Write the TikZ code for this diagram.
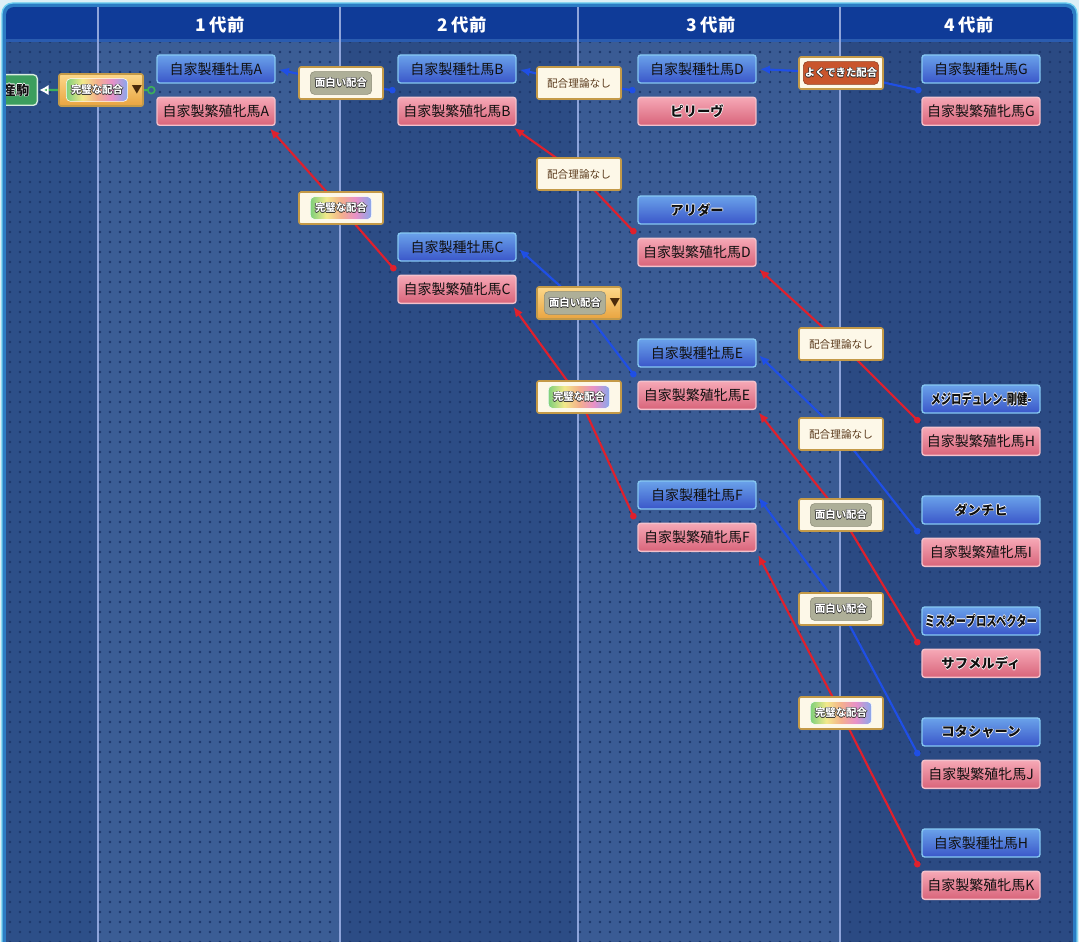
\documentclass[tikz,border=0pt]{standalone}
\usepackage{fontspec}
\setmainfont{Noto Sans CJK JP}
\usepackage{tikz}
\usetikzlibrary{calc,positioning,arrows.meta,shadows,patterns.meta}
\definecolor{pagebg}{HTML}{DCEFF6}
\definecolor{panelrim}{HTML}{2C7CC4}
\definecolor{panelglow}{HTML}{6CD0F0}
\definecolor{headblue}{HTML}{0F3B98}
\definecolor{headedge}{HTML}{2A5CB0}
\definecolor{colA}{HTML}{2D4F88}
\definecolor{colB}{HTML}{3B5D95}
\definecolor{colC}{HTML}{2C4C85}
\definecolor{colD}{HTML}{3A5B94}
\definecolor{colE}{HTML}{2B4A83}
\definecolor{dotc}{HTML}{1E386C}
\definecolor{divline}{HTML}{8EA4DA}
\definecolor{siretop}{HTML}{6AA2EA}
\definecolor{sirebot}{HTML}{3A56C9}
\definecolor{sireedge}{HTML}{86C8F2}
\definecolor{damtop}{HTML}{F6A8B6}
\definecolor{dambot}{HTML}{D8647A}
\definecolor{damedge}{HTML}{F4C0CA}
\definecolor{horsetext}{HTML}{101010}
\definecolor{tagcream}{HTML}{FDF8E8}
\definecolor{tagedge}{HTML}{C49A48}
\definecolor{goldtop}{HTML}{FCD88A}
\definecolor{goldbot}{HTML}{E9A440}
\definecolor{omogrey}{HTML}{AEAF98}
\definecolor{omoedge}{HTML}{8C8C78}
\definecolor{yokured}{HTML}{C9552C}
\definecolor{nashibrown}{HTML}{5B3B1D}
\definecolor{rimdark}{HTML}{2A2A2A}
\definecolor{caretbrown}{HTML}{4A2A0A}
\definecolor{linkblue}{HTML}{1F4FE6}
\definecolor{linkred}{HTML}{E0202C}
\definecolor{linkgreen}{HTML}{3CB05A}
\definecolor{foalgreen}{HTML}{3C9E5E}
\definecolor{rbA}{HTML}{7ED07A}
\definecolor{rbB}{HTML}{F2E98A}
\definecolor{rbC}{HTML}{F4B08C}
\definecolor{rbD}{HTML}{E890C8}
\definecolor{rbE}{HTML}{86A8EC}

\pgfdeclarehorizontalshading{rainbow}{100bp}{color(0bp)=(rbA); color(25bp)=(rbA);
  color(38bp)=(rbB); color(50bp)=(rbC); color(62bp)=(rbD); color(75bp)=(rbE); color(100bp)=(rbE)}

% text with a thin rim round it
\newcommand{\rimtext}[2]{%
  \makebox[0pt][l]{\hspace*{-.5pt}\textcolor{#1}{#2}}%
  \makebox[0pt][l]{\hspace*{.5pt}\textcolor{#1}{#2}}%
  \makebox[0pt][l]{\raisebox{.5pt}{\textcolor{#1}{#2}}}%
  \makebox[0pt][l]{\raisebox{-.5pt}{\textcolor{#1}{#2}}}%
  #2}
% long names squeezed into a box
\newcommand{\narrow}[1]{\scalebox{.74}[1]{#1}}

\tikzset{
  horse/.style={line width=1pt, rounded corners=2pt, minimum width=88.5pt,
    minimum height=21pt, inner sep=0pt, text=horsetext,
    font=\fontsize{10.5}{12}\selectfont},
  sire/.style={horse, draw=sireedge, top color=siretop, bottom color=sirebot},
  dam/.style={horse, draw=damedge, top color=damtop, bottom color=dambot},
  named/.style={font=\fontsize{10}{12}\selectfont\bfseries},
  longname/.style={font=\fontsize{10.5}{12}\selectfont\bfseries},
  tagbox/.style={draw=tagedge, line width=1.2pt, fill=tagcream, rounded corners=1.5pt,
    minimum width=63pt, minimum height=24pt, inner sep=0pt,
    drop shadow={opacity=.35, shadow xshift=.8pt, shadow yshift=-.8pt}},
  picked/.style={tagbox, top color=goldtop, bottom color=goldbot},
  pill/.style={rounded corners=3pt, minimum width=46pt, minimum height=17pt,
    inner sep=1pt, text=white, font=\fontsize{7.8}{8}\selectfont\bfseries},
  funpill/.style={pill, fill=omogrey, draw=omoedge, line width=.4pt},
  bestpill/.style={pill, shading=rainbow, draw=white, line width=.4pt},
  goodpill/.style={pill, fill=yokured, draw=yokured!70!black, line width=.4pt},
  plain/.style={text=nashibrown, font=\fontsize{8}{9}\selectfont},
  caret/.style={inner sep=0pt, text=caretbrown, font=\fontsize{8}{8}\selectfont},
  headlab/.style={text=white, font=\fontsize{13}{14}\selectfont\bfseries},
  bluelink/.style={draw=linkblue, line width=1.6pt, shorten <=2.5pt,
    arrows={Latex[length=7.5pt,width=6.5pt]-}},
  redlink/.style={draw=linkred, line width=1.6pt, shorten <=2.5pt,
    arrows={Latex[length=7.5pt,width=6.5pt]-}},
  greenlink/.style={draw=linkgreen, line width=1.6pt, shorten <=1pt,
    arrows={Latex[length=7pt,width=8pt,color=white,fill=linkgreen]-}},
  foalbox/.style={draw=white!80!foalgreen, line width=1pt, fill=foalgreen,
    rounded corners=3pt, minimum height=23pt, inner xsep=6pt, text=horsetext,
    font=\fontsize{10}{12}\selectfont\bfseries}
}

\begin{document}
\begin{tikzpicture}[x=0.75pt, y=-0.75pt]
  \useasboundingbox (0,0) rectangle (1079,942);
  \fill[pagebg] (0,0) rectangle (1079,942);
  \draw[panelglow, fill=panelrim, line width=1pt, rounded corners=8pt] (2,3) rectangle (1077,990);
  \begin{scope}
    \clip[rounded corners=6pt] (6,7) rectangle (1073,990);
    % columns
    \fill[colA] (6,42) rectangle (98,990);
    \fill[colB] (98,42) rectangle (340,990);
    \fill[colC] (340,42) rectangle (578,990);
    \fill[colD] (578,42) rectangle (840,990);
    \fill[colE] (840,42) rectangle (1073,990);
    \fill[pattern={Dots[distance=7.5pt,radius=1pt]}, pattern color=dotc] (6,42) rectangle (1073,990);
    \fill[headblue] (6,7) rectangle (1073,42);
    \fill[headedge] (6,39.5) rectangle (1073,42);
    \foreach \x in {98,340,578,840}
      \draw[divline, line width=1.5pt] (\x,7) -- (\x,990);
    \node[headlab] (gen1) at (220,25) {1 代前};
    \node[headlab] (gen2) at (462,25) {2 代前};
    \node[headlab] (gen3) at (711,25) {3 代前};
    \node[headlab] (gen4) at (969,25) {4 代前};

    % the foal
    \node[foalbox] (foal) at (16,90) {\rimtext{white}{産駒}};

    % 1 and 2 generations back
    \node[sire] (sireA) at (216,69) {自家製種牡馬A};
    \node[dam, below=9.75pt of sireA] (damA) {自家製繁殖牝馬A};
    \node[sire] (sireB) at (457,69) {自家製種牡馬B};
    \node[dam, below=9.75pt of sireB] (damB) {自家製繁殖牝馬B};
    \node[sire] (sireC) at (457,247) {自家製種牡馬C};
    \node[dam, below=9.75pt of sireC] (damC) {自家製繁殖牝馬C};

    % 3 generations back
    \node[sire] (sireD) at (697,69) {自家製種牡馬D};
    \node[dam, named, below=9.75pt of sireD] (pilieve) {\rimtext{white}{ピリーヴ}};
    \node[sire, named] (alydar) at (697,210) {\rimtext{white}{アリダー}};
    \node[dam, below=9.75pt of alydar] (damD) {自家製繁殖牝馬D};
    \node[sire] (sireE) at (697,353) {自家製種牡馬E};
    \node[dam, below=9.75pt of sireE] (damE) {自家製繁殖牝馬E};
    \node[sire] (sireF) at (697,495) {自家製種牡馬F};
    \node[dam, below=9.75pt of sireF] (damF) {自家製繁殖牝馬F};

    % 4 generations back
    \node[sire] (sireG) at (981,69) {自家製種牡馬G};
    \node[dam, below=9.75pt of sireG] (damG) {自家製繁殖牝馬G};
    \node[sire, longname] (mejiro) at (981,399) {\narrow{\rimtext{white}{メジロデュレン-剛健-}}};
    \node[dam, below=9.75pt of mejiro] (damH) {自家製繁殖牝馬H};
    \node[sire, named] (danzig) at (981,510) {\rimtext{white}{ダンチヒ}};
    \node[dam, below=9.75pt of danzig] (damI) {自家製繁殖牝馬I};
    \node[sire, longname] (misterp) at (981,621) {\narrow{\rimtext{white}{ミスタープロスペクター}}};
    \node[dam, named, below=9.75pt of misterp] (sabmeld) {\rimtext{white}{サフメルディ}};
    \node[sire, named] (kotash) at (981,732) {\rimtext{white}{コタシャーン}};
    \node[dam, below=9.75pt of kotash] (damJ) {自家製繁殖牝馬J};
    \node[sire] (sireH) at (981,843) {自家製種牡馬H};
    \node[dam, below=9.75pt of sireH] (damK) {自家製繁殖牝馬K};

    % pair points
    \coordinate (pA) at ($(sireA.south west)!.5!(damA.north west)+(-5,0)$);
    \coordinate (pB) at ($(sireB.south west)!.5!(damB.north west)+(-5,0)$);
    \coordinate (pC) at ($(sireC.south west)!.5!(damC.north west)+(-4,0)$);
    \coordinate (pD) at ($(sireD.south west)!.5!(pilieve.north west)+(-5,0)$);
    \coordinate (pAly) at ($(alydar.south west)!.5!(damD.north west)+(-4,0)$);
    \coordinate (pE) at ($(sireE.south west)!.5!(damE.north west)+(-4,0)$);
    \coordinate (pF) at ($(sireF.south west)!.5!(damF.north west)+(-4,0)$);
    \coordinate (pG) at ($(sireG.south west)!.5!(damG.north west)+(-3,0)$);
    \coordinate (pMej) at ($(mejiro.south west)!.5!(damH.north west)+(-4,0)$);
    \coordinate (pDan) at ($(danzig.south west)!.5!(damI.north west)+(-4,0)$);
    \coordinate (pMis) at ($(misterp.south west)!.5!(sabmeld.north west)+(-4,0)$);
    \coordinate (pKot) at ($(kotash.south west)!.5!(damJ.north west)+(-4,0)$);
    \coordinate (pH) at ($(sireH.south west)!.5!(damK.north west)+(-4,0)$);

    % tag points
    \coordinate (t1) at (101,90);
    \coordinate (t2) at (341,83);
    \coordinate (t3) at (579,83);
    \coordinate (t4) at (841,73);
    \coordinate (t5) at (579,174);
    \coordinate (t6) at (341,208);
    \coordinate (t7) at (579,303);
    \coordinate (t8) at (579,397);
    \coordinate (t9) at (841,344);
    \coordinate (t10) at (841,434);
    \coordinate (t11) at (841,515);
    \coordinate (t12) at (841,609);
    \coordinate (t13) at (841,713);

    % links
    \draw[greenlink] (foal.east) -- (t1) -- (pA);
    \draw[linkgreen, line width=1.2pt, fill=colB] (pA) circle[radius=2.6pt];
    \draw[bluelink] (sireA.east) -- (t2) -- (pB);
    \draw[bluelink] (sireB.east) -- (t3) -- (pD);
    \draw[bluelink] (sireD.east) -- (t4) -- (pG);
    \draw[bluelink] (sireC.east) -- (t7) -- (pE);
    \draw[bluelink] (sireE.east) -- (t10) -- (pDan);
    \draw[bluelink] (sireF.east) -- (t12) -- (pKot);
    \draw[redlink] ([xshift=-6pt]damA.south east) -- (t6) -- (pC);
    \draw[redlink] ([xshift=-4pt]damB.south east) -- (t5) -- (pAly);
    \draw[redlink] ([xshift=-4pt]damC.south east) -- (t8) -- (pF);
    \draw[redlink] (damD.south east) -- (t9) -- (pMej);
    \draw[redlink] (damE.south east) -- (t11) -- (pMis);
    \draw[redlink] (damF.south east) -- (t13) -- (pH);
    \foreach \p in {pB,pD,pG,pE,pDan,pKot}
      \fill[linkblue] (\p) circle[radius=2.5pt];
    \foreach \p in {pC,pAly,pF,pMej,pMis,pH}
      \fill[linkred] (\p) circle[radius=2.5pt];

    % mating tags
    \node[picked] (tag1) at (t1) {};
    \node[bestpill] (tag1p) at ([xshift=-3pt]tag1.center) {\rimtext{rimdark}{完璧な配合}};
    \node[caret] (tag1v) at ([xshift=27pt]tag1.center) {▼};
    \node[tagbox] (tag2) at (t2) {};
    \node[funpill] (tag2p) at (tag2) {\rimtext{rimdark}{面白い配合}};
    \node[tagbox, plain] (tag3) at (t3) {配合理論なし};
    \node[tagbox] (tag4) at (t4) {};
    \node[goodpill] (tag4p) at (tag4) {\rimtext{rimdark}{よくできた配合}};
    \node[tagbox, plain] (tag5) at (t5) {配合理論なし};
    \node[tagbox] (tag6) at (t6) {};
    \node[bestpill] (tag6p) at (tag6) {\rimtext{rimdark}{完璧な配合}};
    \node[picked] (tag7) at (t7) {};
    \node[funpill] (tag7p) at ([xshift=-3pt]tag7.center) {\rimtext{rimdark}{面白い配合}};
    \node[caret] (tag7v) at ([xshift=27pt]tag7.center) {▼};
    \node[tagbox] (tag8) at (t8) {};
    \node[bestpill] (tag8p) at (tag8) {\rimtext{rimdark}{完璧な配合}};
    \node[tagbox, plain] (tag9) at (t9) {配合理論なし};
    \node[tagbox, plain] (tag10) at (t10) {配合理論なし};
    \node[tagbox] (tag11) at (t11) {};
    \node[funpill] (tag11p) at (tag11) {\rimtext{rimdark}{面白い配合}};
    \node[tagbox] (tag12) at (t12) {};
    \node[funpill] (tag12p) at (tag12) {\rimtext{rimdark}{面白い配合}};
    \node[tagbox] (tag13) at (t13) {};
    \node[bestpill] (tag13p) at (tag13) {\rimtext{rimdark}{完璧な配合}};
  \end{scope}
\end{tikzpicture}
\end{document}
